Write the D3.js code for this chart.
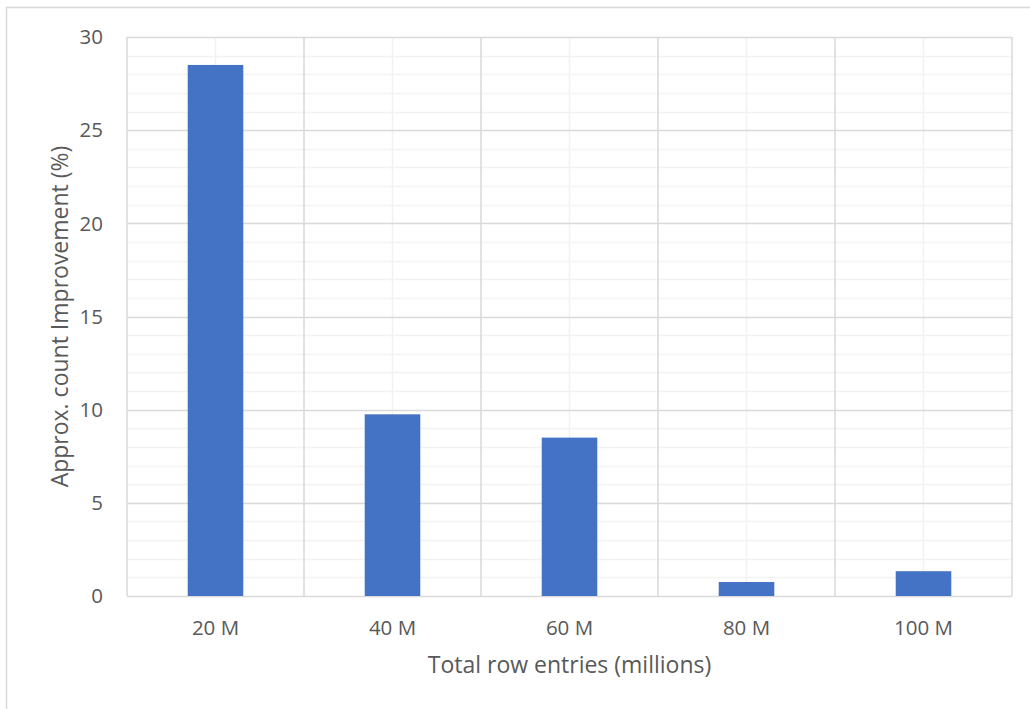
<!DOCTYPE html>
<html>
<head>
<meta charset="utf-8">
<script src="https://cdn.jsdelivr.net/npm/d3@7"></script>
<style>
  body { margin: 0; background: #fff; }
  text { font-family: "Open Sans", sans-serif; fill: #595959; }
</style>
</head>
<body>
<div id="chart"></div>
<script>
// values
const categories = ['20 M', '40 M', '60 M', '80 M', '100 M'];
const improvement = [28.5, 9.75, 8.5, 0.75, 1.33];
const yTicks = [0, 5, 10, 15, 20, 25, 30];

const W = 1030, H = 709;
const m = {left: 127, right: 1012, top: 37, bottom: 596};

const svg = d3.select('#chart').append('svg')
    .attr('width', W).attr('height', H);

// outer chart border
svg.append('rect')
    .attr('x', 6.5).attr('y', 7.5)
    .attr('width', W + 10).attr('height', H + 10)
    .attr('fill', 'none').attr('stroke', '#d9d9d9').attr('stroke-width', 1.5);

const x = d3.scaleBand()
    .domain(categories)
    .range([m.left, m.right])
    .paddingInner(0.686)
    .paddingOuter(0.343);

const xCat = d3.scaleBand().domain(categories).range([m.left, m.right]);

const y = d3.scaleLinear().domain([0, 30]).range([m.bottom, m.top]);

// minor horizontal gridlines
svg.append('g').selectAll('line')
    .data(d3.range(0, 31, 1).filter(v => v % 5 !== 0))
    .join('line')
    .attr('x1', m.left).attr('x2', m.right)
    .attr('y1', d => Math.round(y(d)) + 0.5).attr('y2', d => Math.round(y(d)) + 0.5)
    .attr('stroke', '#f2f2f2').attr('stroke-width', 1.5);

// minor vertical gridlines (category centres)
svg.append('g').selectAll('line')
    .data(categories)
    .join('line')
    .attr('x1', d => xCat(d) + xCat.bandwidth() / 2)
    .attr('x2', d => xCat(d) + xCat.bandwidth() / 2)
    .attr('y1', m.top).attr('y2', m.bottom)
    .attr('stroke', '#f2f2f2').attr('stroke-width', 1.5);

// major horizontal gridlines
svg.append('g').selectAll('line')
    .data(yTicks)
    .join('line')
    .attr('x1', m.left).attr('x2', m.right)
    .attr('y1', d => Math.round(y(d)) + 0.5).attr('y2', d => Math.round(y(d)) + 0.5)
    .attr('stroke', '#d9d9d9').attr('stroke-width', 1.5);

// major vertical gridlines (category boundaries)
const bounds = categories.map(c => xCat(c)).concat([m.right]);
svg.append('g').selectAll('line')
    .data(bounds)
    .join('line')
    .attr('x1', d => d).attr('x2', d => d)
    .attr('y1', m.top).attr('y2', m.bottom)
    .attr('stroke', '#d9d9d9').attr('stroke-width', 1.5);

// bars
svg.append('g').selectAll('rect')
    .data(improvement)
    .join('rect')
    .attr('x', (d, i) => x(categories[i]))
    .attr('y', d => y(d))
    .attr('width', x.bandwidth())
    .attr('height', d => y(0) - y(d))
    .attr('fill', '#4472c4');

// y tick labels
svg.append('g').selectAll('text')
    .data(yTicks)
    .join('text')
    .attr('x', 103)
    .attr('y', d => y(d))
    .attr('dy', '0.35em')
    .attr('text-anchor', 'end')
    .attr('font-size', 20.5)
    .text(d => d);

// x tick labels
svg.append('g').selectAll('text')
    .data(categories)
    .join('text')
    .attr('x', d => xCat(d) + xCat.bandwidth() / 2)
    .attr('y', 628)
    .attr('dy', '0.35em')
    .attr('text-anchor', 'middle')
    .attr('font-size', 20.5)
    .text(d => d);

// axis titles
svg.append('text')
    .attr('x', (m.left + m.right) / 2)
    .attr('y', 665)
    .attr('dy', '0.35em')
    .attr('text-anchor', 'middle')
    .attr('font-size', 23)
    .text('Total row entries (millions)');

svg.append('text')
    .attr('transform', `translate(60,${(m.top + m.bottom) / 2}) rotate(-90)`)
    .attr('dy', '0.35em')
    .attr('text-anchor', 'middle')
    .attr('font-size', 23)
    .text('Approx. count Improvement (%)');
</script>
</body>
</html>
